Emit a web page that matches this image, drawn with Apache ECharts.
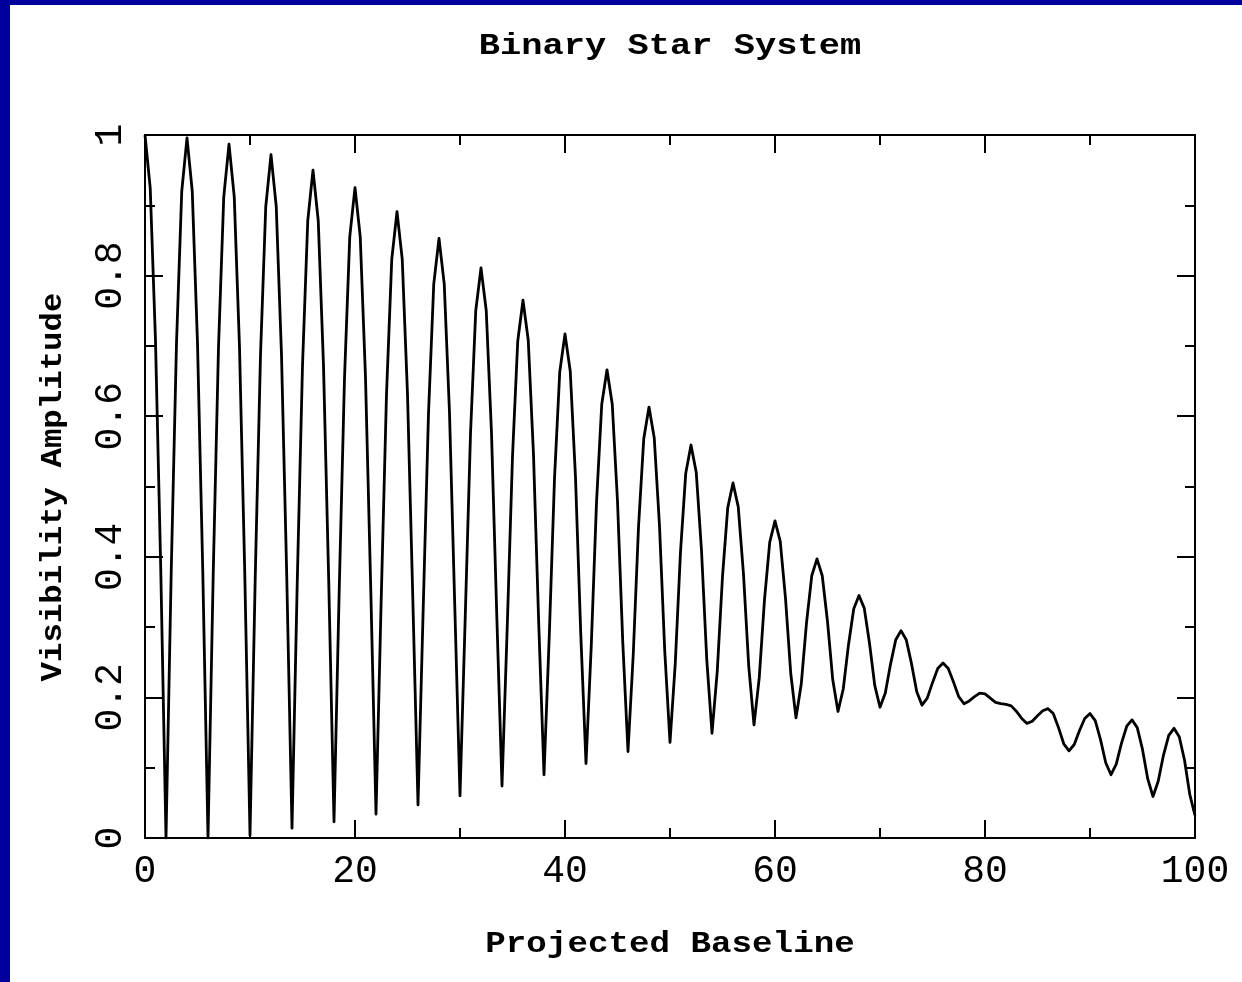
<!DOCTYPE html>
<html>
<head>
<meta charset="utf-8">
<title>Binary Star System</title>
<script src="https://cdn.jsdelivr.net/npm/echarts@6/dist/echarts.min.js"></script>
<style>
  html, body { margin: 0; padding: 0; background: #ffffff; }
  #chart { width: 1242px; height: 982px; }
</style>
</head>
<body>
<div id="chart"></div>
<script>
// Visibility amplitude of a binary star versus projected baseline.
const titleText = 'Binary Star System';
const xName = 'Projected Baseline';
const yName = 'Visibility Amplitude';

// Projected baseline samples, one every half unit.
const baseline = [
  0, 0.5, 1, 1.5, 2, 2.5, 3, 3.5, 4, 4.5, 5, 5.5, 6, 6.5, 7, 7.5,
  8, 8.5, 9, 9.5, 10, 10.5, 11, 11.5, 12, 12.5, 13, 13.5, 14, 14.5, 15, 15.5,
  16, 16.5, 17, 17.5, 18, 18.5, 19, 19.5, 20, 20.5, 21, 21.5, 22, 22.5, 23, 23.5,
  24, 24.5, 25, 25.5, 26, 26.5, 27, 27.5, 28, 28.5, 29, 29.5, 30, 30.5, 31, 31.5,
  32, 32.5, 33, 33.5, 34, 34.5, 35, 35.5, 36, 36.5, 37, 37.5, 38, 38.5, 39, 39.5,
  40, 40.5, 41, 41.5, 42, 42.5, 43, 43.5, 44, 44.5, 45, 45.5, 46, 46.5, 47, 47.5,
  48, 48.5, 49, 49.5, 50, 50.5, 51, 51.5, 52, 52.5, 53, 53.5, 54, 54.5, 55, 55.5,
  56, 56.5, 57, 57.5, 58, 58.5, 59, 59.5, 60, 60.5, 61, 61.5, 62, 62.5, 63, 63.5,
  64, 64.5, 65, 65.5, 66, 66.5, 67, 67.5, 68, 68.5, 69, 69.5, 70, 70.5, 71, 71.5,
  72, 72.5, 73, 73.5, 74, 74.5, 75, 75.5, 76, 76.5, 77, 77.5, 78, 78.5, 79, 79.5,
  80, 80.5, 81, 81.5, 82, 82.5, 83, 83.5, 84, 84.5, 85, 85.5, 86, 86.5, 87, 87.5,
  88, 88.5, 89, 89.5, 90, 90.5, 91, 91.5, 92, 92.5, 93, 93.5, 94, 94.5, 95, 95.5,
  96, 96.5, 97, 97.5, 98, 98.5, 99, 99.5, 100
];

// Visibility amplitude at each baseline sample.
const amplitude = [
  1.000, 0.924, 0.707, 0.383, 0.000, 0.381, 0.704, 0.920,
  0.996, 0.920, 0.704, 0.381, 0.000, 0.378, 0.698, 0.912,
  0.987, 0.912, 0.698, 0.378, 0.004, 0.372, 0.687, 0.898,
  0.972, 0.898, 0.687, 0.372, 0.014, 0.364, 0.672, 0.878,
  0.950, 0.878, 0.672, 0.364, 0.023, 0.355, 0.654, 0.855,
  0.925, 0.855, 0.655, 0.355, 0.034, 0.342, 0.631, 0.823,
  0.891, 0.823, 0.631, 0.344, 0.047, 0.329, 0.604, 0.788,
  0.853, 0.788, 0.605, 0.331, 0.060, 0.315, 0.575, 0.750,
  0.811, 0.750, 0.576, 0.318, 0.074, 0.301, 0.543, 0.707,
  0.765, 0.708, 0.545, 0.304, 0.090, 0.287, 0.511, 0.663,
  0.717, 0.664, 0.513, 0.291, 0.106, 0.273, 0.477, 0.617,
  0.666, 0.617, 0.479, 0.279, 0.123, 0.261, 0.442, 0.568,
  0.613, 0.569, 0.444, 0.266, 0.136, 0.248, 0.407, 0.519,
  0.559, 0.520, 0.409, 0.254, 0.149, 0.237, 0.372, 0.470,
  0.505, 0.471, 0.375, 0.244, 0.161, 0.228, 0.339, 0.421,
  0.451, 0.422, 0.341, 0.234, 0.171, 0.219, 0.306, 0.373,
  0.397, 0.373, 0.308, 0.225, 0.180, 0.212, 0.275, 0.326,
  0.345, 0.327, 0.277, 0.217, 0.186, 0.206, 0.247, 0.282,
  0.295, 0.282, 0.248, 0.208, 0.189, 0.199, 0.221, 0.241,
  0.249, 0.241, 0.222, 0.201, 0.191, 0.195, 0.201, 0.206,
  0.205, 0.199, 0.193, 0.191, 0.190, 0.188, 0.180, 0.170,
  0.163, 0.166, 0.174, 0.181, 0.184, 0.177, 0.157, 0.134,
  0.124, 0.133, 0.153, 0.170, 0.177, 0.167, 0.140, 0.107,
  0.090, 0.105, 0.135, 0.159, 0.168, 0.157, 0.126, 0.084,
  0.059, 0.081, 0.118, 0.146, 0.156, 0.144, 0.111, 0.062,
  0.032
];

const FONT = '"Liberation Mono", "DejaVu Sans Mono", monospace';
const INK = '#000000';
const FRAME_BLUE = '#00009c';

const points = baseline.map((b, i) => [b, amplitude[i]]);

function axisBase(extra) {
  return Object.assign({
    type: 'value',
    axisLine: { show: true, onZero: false, lineStyle: { color: INK, width: 2 } },
    axisTick: { show: true, inside: true, length: 18, lineStyle: { color: INK, width: 2 } },
    minorTick: { show: true, splitNumber: 2, length: 10, lineStyle: { color: INK, width: 2 } },
    splitLine: { show: false },
    minorSplitLine: { show: false }
  }, extra);
}

const labelStyle = { color: INK, fontFamily: FONT, fontSize: 38 };

const chart = echarts.init(document.getElementById('chart'), null, { renderer: 'canvas' });

chart.setOption({
  animation: false,
  backgroundColor: '#ffffff',
  grid: { left: 145, right: 47, top: 135, bottom: 144, containLabel: false },
  xAxis: [
    axisBase({
      position: 'bottom', min: 0, max: 100, interval: 20,
      axisLabel: Object.assign({ show: true, margin: 15 }, labelStyle)
    }),
    axisBase({
      position: 'top', min: 0, max: 100, interval: 20,
      axisLabel: { show: false }
    })
  ],
  yAxis: [
    axisBase({
      position: 'left', min: 0, max: 1, interval: 0.2,
      axisLabel: Object.assign({ show: true, rotate: 90, margin: 15 }, labelStyle)
    }),
    axisBase({
      position: 'right', min: 0, max: 1, interval: 0.2,
      axisLabel: { show: false }
    })
  ],
  series: [{
    type: 'line',
    xAxisIndex: 0,
    yAxisIndex: 0,
    data: points,
    showSymbol: false,
    symbol: 'none',
    clip: true,
    lineStyle: { color: INK, width: 2.8, join: 'round' },
    emphasis: { disabled: true }
  }],
  graphic: [
    { type: 'rect', left: 0, top: 0, shape: { width: 10, height: 982 }, style: { fill: FRAME_BLUE }, silent: true },
    { type: 'rect', left: 0, top: 0, shape: { width: 1242, height: 5 }, style: { fill: FRAME_BLUE }, silent: true },
    {
      type: 'text', x: 670, y: 46, scaleX: 1.18,
      style: { text: titleText, fill: INK, font: 'bold 30px ' + FONT, textAlign: 'center', textVerticalAlign: 'middle' },
      silent: true
    },
    {
      type: 'text', x: 670, y: 944, scaleX: 1.14,
      style: { text: xName, fill: INK, font: 'bold 30px ' + FONT, textAlign: 'center', textVerticalAlign: 'middle' },
      silent: true
    },
    {
      type: 'text', x: 53, y: 487, scaleX: 1.08, rotation: Math.PI / 2,
      style: { text: yName, fill: INK, font: 'bold 30px ' + FONT, textAlign: 'center', textVerticalAlign: 'middle' },
      silent: true
    }
  ]
});
</script>
</body>
</html>
